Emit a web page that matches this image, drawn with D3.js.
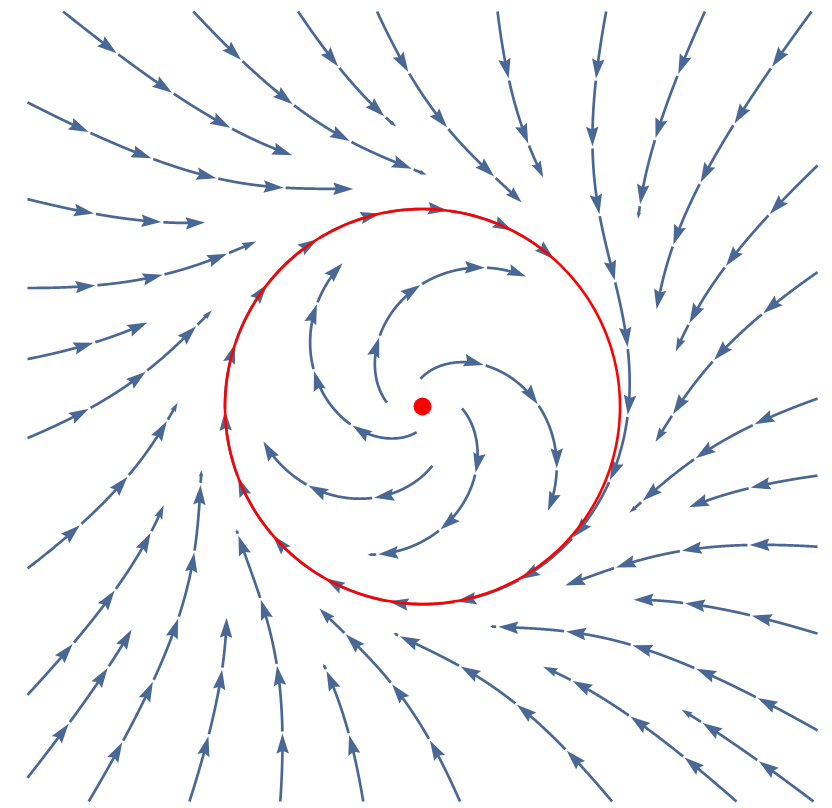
<!DOCTYPE html>
<html>
<head>
<meta charset="utf-8">
<script src="https://cdn.jsdelivr.net/npm/d3@7"></script>
<style>
  body { margin: 0; background: #fff; }
</style>
</head>
<body>
<svg id="chart" width="832" height="808"></svg>
<script>
// plot range of the phase plane
const xDomain = [-2, 2];
const yDomain = [-2, 2];

// streamline seeds (data coords) and where each one stops
const streamStarts = [
  [-1.82, 2], [-1.16, 2], [-0.63, 2], [-0.23, 2], [0.38, 2], [0.93, 2], [1.43, 2], [1.97, 2],
  [2, 1.22], [2, 0.68], [2, 0.04], [2, -0.35], [2, -0.71], [2, -1.15], [2, -1.64],
  [1.98, -2], [1.59, -2], [0.96, -2], [0.19, -2], [-0.30, -2], [-0.72, -2], [-1.18, -2], [-1.69, -2],
  [-2, -1.88], [-2, -1.46], [-2, -0.82], [-2, -0.16], [-2, 0.24], [-2, 0.60], [-2, 1.05], [-2, 1.54],
  [-0.01, 0.14], [-0.18, 0.02], [-0.03, -0.13], [0.05, -0.30], [0.20, -0.01]
];
const streamEnds = [
  [-0.66, 1.27], [0.02, 1.17], [-0.13, 1.42], [0.50, 1.03], [0.61, 1.16], [0.66, 0.74], [1.09, 0.95], [1.19, 0.49],
  [1.28, 0.28], [1.18, -0.18], [1.05, -0.54], [1.35, -0.51], [0.72, -0.90], [1.07, -0.97], [0.34, -1.12],
  [1.31, -1.54], [0.61, -1.32], [-0.15, -1.15], [-0.52, -1.02], [-0.50, -1.30], [-0.94, -0.62], [-0.99, -1.07], [-1.12, -0.32],
  [-1.47, -1.13], [-1.31, -0.50], [-1.24, 0.02], [-1.06, 0.48], [-1.39, 0.42], [-0.84, 0.83], [-1.10, 0.93], [-0.35, 1.10],
  [0.64, -0.53], [0.52, 0.65], [-0.41, 0.73], [-0.81, -0.18], [-0.28, -0.75]
];

// limit cycle and equilibrium
const cycleCenter = [0, 0];
const cycleRadius = 1;
const fixedPoint = [0, 0];

const streamColor = "#4a6895";
const arrowSpacing = 68;   // px between arrowheads along a stream
const gap = 2;             // px white gap after each arrow tip
const headLen = 20, headWid = 12.5;

const svg = d3.select("#chart");
const x = d3.scaleLinear().domain(xDomain).range([27.5, 817.5]);
const y = d3.scaleLinear().domain(yDomain).range([801.5, 11.5]);

// x' = y + x(1 - r^2), y' = -x + y(1 - r^2)
function field(px, py) {
  const k = 1 - px * px - py * py;
  return [py + px * k, -px + py * k];
}
function dir(p) {
  const v = field(p[0], p[1]);
  const m = Math.hypot(v[0], v[1]) || 1;
  return [v[0] / m, v[1] / m];
}

function trace(start, end) {
  const h = 0.002, maxLen = 12;
  let p = start.slice();
  const pts = [p.slice()];
  let best = Infinity, bestI = 0, len = 0;
  while (len < maxLen) {
    const k1 = dir(p);
    const k2 = dir([p[0] + h / 2 * k1[0], p[1] + h / 2 * k1[1]]);
    const k3 = dir([p[0] + h / 2 * k2[0], p[1] + h / 2 * k2[1]]);
    const k4 = dir([p[0] + h * k3[0], p[1] + h * k3[1]]);
    p = [p[0] + h / 6 * (k1[0] + 2 * k2[0] + 2 * k3[0] + k4[0]),
         p[1] + h / 6 * (k1[1] + 2 * k2[1] + 2 * k3[1] + k4[1])];
    len += h;
    pts.push(p);
    const d = Math.hypot(p[0] - end[0], p[1] - end[1]);
    if (len > 0.1 && d < best) { best = d; bestI = pts.length - 1; }
    if (Math.hypot(p[0], p[1]) < 0.01) break;
  }
  return pts.slice(0, bestI + 1);
}

// helpers on a pixel polyline with cumulative lengths
function at(poly, cum, s) {
  let i = d3.bisectLeft(cum, s);
  if (i <= 0) return poly[0];
  if (i >= cum.length) return poly[poly.length - 1];
  const t = (s - cum[i - 1]) / ((cum[i] - cum[i - 1]) || 1);
  return [poly[i - 1][0] + t * (poly[i][0] - poly[i - 1][0]),
          poly[i - 1][1] + t * (poly[i][1] - poly[i - 1][1])];
}
function sub(poly, cum, s0, s1) {
  const out = [at(poly, cum, s0)];
  for (let i = 0; i < poly.length; i++) if (cum[i] > s0 && cum[i] < s1) out.push(poly[i]);
  out.push(at(poly, cum, s1));
  return out;
}

const line = d3.line();
const gStreams = svg.append("g");

streamStarts.forEach((s, idx) => {
  const pts = trace(s, streamEnds[idx]);
  const poly = pts.map(p => [x(p[0]), y(p[1])]);
  const cum = [0];
  for (let i = 1; i < poly.length; i++)
    cum.push(cum[i - 1] + Math.hypot(poly[i][0] - poly[i - 1][0], poly[i][1] - poly[i - 1][1]));
  const L = cum[cum.length - 1];

  const tips = [];
  for (let t = arrowSpacing; t < L - 2; t += arrowSpacing) tips.push(t);
  tips.push(L);

  let prev = 0;
  tips.forEach((tip, i) => {
    const s0 = i === 0 ? 0 : prev + gap;
    const sc = Math.min(1, (tip - prev) / 45);
    const hl = headLen * sc, hw = headWid * sc;
    const lineEnd = Math.max(s0, tip - hl * 0.6);
    if (lineEnd > s0) {
      gStreams.append("path")
        .attr("d", line(sub(poly, cum, s0, lineEnd)))
        .attr("fill", "none")
        .attr("stroke", streamColor)
        .attr("stroke-width", 2.7)
        .attr("stroke-linecap", "butt");
    }
    const a = at(poly, cum, tip), b = at(poly, cum, Math.max(0, tip - 3));
    const ang = Math.atan2(a[1] - b[1], a[0] - b[0]) * 180 / Math.PI;
    gStreams.append("path")
      .attr("d", `M0,0L${-hl},${-hw / 2}L${-hl * 0.86},0L${-hl},${hw / 2}Z`)
      .attr("transform", `translate(${a[0]},${a[1]}) rotate(${ang})`)
      .attr("fill", streamColor);
    prev = tip;
  });
});

// limit cycle
const circ = d3.range(0, 360, 2).map(d => {
  const t = d * Math.PI / 180;
  return [x(cycleCenter[0] + cycleRadius * Math.cos(t)), y(cycleCenter[1] + cycleRadius * Math.sin(t))];
});
svg.append("path")
  .attr("d", d3.line().curve(d3.curveCardinalClosed)(circ))
  .attr("fill", "none")
  .attr("stroke", "#ff0000")
  .attr("stroke-width", 2.6);

svg.append("circle")
  .attr("cx", x(fixedPoint[0]))
  .attr("cy", y(fixedPoint[1]))
  .attr("r", 9)
  .attr("fill", "#ff0000");
</script>
</body>
</html>
